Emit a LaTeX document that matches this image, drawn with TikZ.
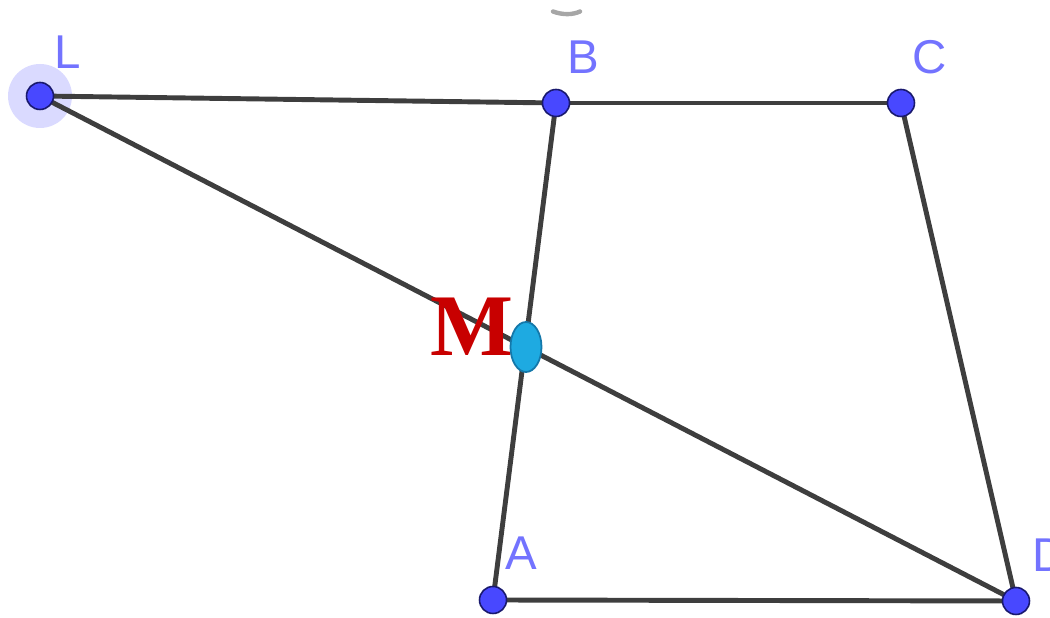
\documentclass[tikz,border=0pt]{standalone}
\usepackage{fontspec}
\setmainfont{Liberation Sans}
\newfontfamily\serifbold{Liberation Serif}
\usetikzlibrary{shapes.geometric}
\definecolor{segcol}{RGB}{62,62,62}
\definecolor{ptfill}{RGB}{72,72,255}
\definecolor{ptline}{RGB}{25,25,110}
\definecolor{lblcol}{RGB}{115,115,255}
\definecolor{halo}{RGB}{218,218,255}
\definecolor{mfill}{RGB}{30,170,225}
\definecolor{mline}{RGB}{20,120,170}
\definecolor{mred}{RGB}{200,0,0}
\tikzset{
  seg/.style={draw=segcol,line width=2.8pt},
  pt/.style={circle,fill=ptfill,draw=ptline,line width=0.9pt,minimum size=0.54cm,inner sep=0pt},
  lbl/.style={text=lblcol,font=\fontsize{27}{30}\selectfont,inner sep=0pt},
}
\begin{document}
\begin{tikzpicture}
\useasboundingbox (0,0) rectangle (21,12.36);
\coordinate (L) at (0.80,10.44);
\coordinate (B) at (11.12,10.30);
\coordinate (C) at (18.02,10.30);
\coordinate (A) at (9.86,0.36);
\coordinate (D) at (20.32,0.34);
\coordinate (M) at (10.52,5.42);
% halo of selected point
\fill[halo] (L) circle (0.64cm);
% top mark
\draw[gray!70,line width=2.5pt,line cap=round] (11.06,12.13) .. controls (11.25,12.06) and (11.45,12.06) .. (11.6,12.13);
% segments
\draw[seg] (L) -- (B);
\draw[seg] (B) -- (C);
\draw[seg] (C) -- (D);
\draw[seg] (D) -- (A);
\draw[seg] (A) -- (B);
\draw[seg] (L) -- (D);
% M label
\node[text=mred,font=\serifbold\bfseries\fontsize{50}{56}\selectfont,inner sep=0pt,anchor=base] (Mlbl) at (9.44,5.24) {M};
% points
\node[pt] (pL) at (L) {};
\node[pt] (pB) at (B) {};
\node[pt] (pC) at (C) {};
\node[pt] (pA) at (A) {};
\node[pt] (pD) at (D) {};
\node[ellipse,fill=mfill,draw=mline,line width=1pt,minimum width=0.62cm,minimum height=1.0cm,inner sep=0pt] (pM) at (M) {};
% labels
\node[lbl] (lL) at (1.36,11.32) {L};
\node[lbl] (lB) at (11.66,11.22) {B};
\node[lbl] (lC) at (18.60,11.22) {C};
\node[lbl] (lA) at (10.42,1.30) {A};
\node[lbl,anchor=west] (lD) at (20.64,1.26) {D};
\end{tikzpicture}
\end{document}
